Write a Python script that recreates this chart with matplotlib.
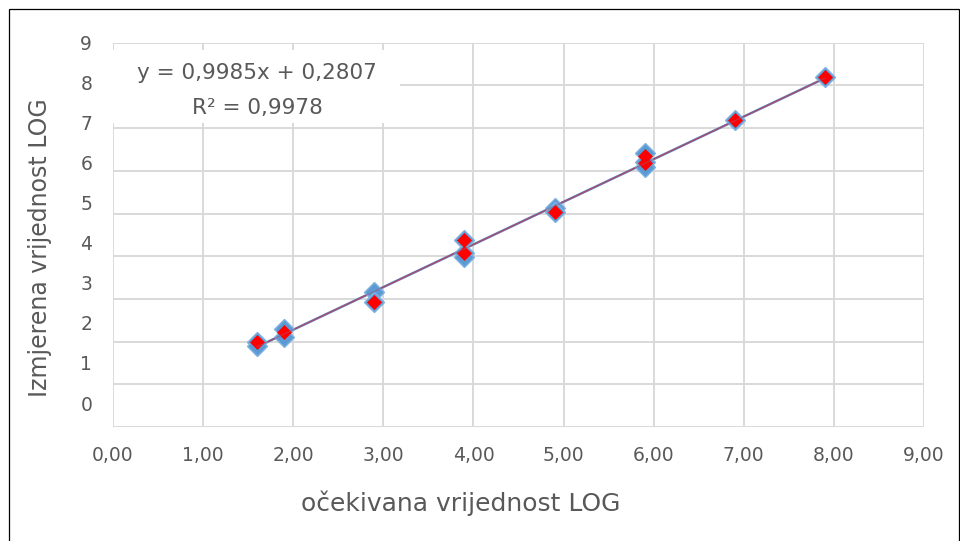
import matplotlib.pyplot as plt
from matplotlib.patches import Rectangle
import numpy as np

# measured replicates (blue) and mean-ish points (red)
x_blue = [1.6, 1.6, 1.9, 1.9, 2.9, 2.9, 3.9, 3.9, 3.9, 4.9, 4.9, 5.9, 5.9, 5.9, 6.9, 7.9]
y_blue = [1.99, 1.90, 2.30, 2.11, 3.16, 2.93, 4.38, 4.07, 3.98, 5.13, 5.04, 6.42, 6.21, 6.09, 7.19, 8.20]
x_red = [1.6, 1.9, 2.9, 3.9, 3.9, 4.9, 5.9, 5.9, 6.9, 7.9]
y_red = [1.99, 2.22, 2.93, 4.38, 4.07, 5.04, 6.35, 6.18, 7.19, 8.20]

slope = 0.9985
intercept = 0.2807
r2 = 0.9978

x_ticks = list(range(10))
x_labels = ["0,00", "1,00", "2,00", "3,00", "4,00", "5,00", "6,00", "7,00", "8,00", "9,00"]
# y labels in the picture sit a bit off the gridlines
y_label_pos = [0.562 + 0.937 * k for k in range(10)]
y_labels = [str(k) for k in range(10)]

txt = "#595959"
fig = plt.figure(figsize=(9.6, 5.41), dpi=100)
ax = fig.add_axes([113 / 960, 1 - 427 / 541, (924 - 113) / 960, (427 - 42.7) / 541])

ax.set_xlim(0, 9)
ax.set_ylim(0, 9)
ax.set_xticks(x_ticks)
ax.set_xticklabels(x_labels)
ax.set_yticks(y_label_pos)
ax.set_yticklabels(y_labels)
ax.set_yticks(range(10), minor=True)
ax.tick_params(which="both", length=0, labelsize=13.5, labelcolor=txt)
ax.tick_params(axis="x", pad=14)
ax.tick_params(axis="y", pad=15)
ax.xaxis.grid(True, which="major", color="#D9D9D9", lw=1.4)
ax.yaxis.grid(False, which="major")
ax.yaxis.grid(True, which="minor", color="#D9D9D9", lw=1.4)
ax.set_axisbelow(True)
for s in ax.spines.values():
    s.set_visible(False)

# trendline
xt = np.array([min(x_blue), max(x_blue)])
yt = slope * xt + intercept
ax.plot(xt, yt, color="#5B9BD5", lw=1.8, zorder=2)
ax.plot(xt, yt, color="#C0334D", lw=1.0, alpha=0.8, zorder=2)

ax.plot(x_blue, y_blue, linestyle="none", marker="D", ms=10, mfc="#5B9BD5",
        mec="#7FB2E0", mew=1, zorder=3)
ax.plot(x_red, y_red, linestyle="none", marker="D", ms=7, mfc="#FF0000",
        mec="#FF0000", mew=0.5, zorder=4)
# trendline drawn over the markers as in the original
ax.plot(xt, yt, color="#A0507A", lw=0.8, alpha=0.6, zorder=5)

# equation box
fig.patches.append(Rectangle((110 / 960, 1 - 123 / 541), (400 - 110) / 960, 73 / 541,
                             transform=fig.transFigure, facecolor="white",
                             edgecolor="none", zorder=5))
fig.text(257 / 960, 1 - 73 / 541, "y = 0,9985x + 0,2807",
         ha="center", va="center", fontsize=15.5, color=txt, zorder=6)
fig.text(257 / 960, 1 - 108 / 541, "R² = 0,9978", ha="center", va="center",
         fontsize=15.5, color=txt, zorder=6)

fig.text(461 / 960, 1 - 503 / 541, "očekivana vrijednost LOG", ha="center", va="center",
         fontsize=18, color=txt)
fig.text(40 / 960, 1 - 248 / 541, "Izmjerena vrijednost LOG", ha="center", va="center",
         rotation=90, fontsize=17, color=txt)

# chart border
fig.patches.append(Rectangle((8.5 / 960, -0.05), (959 - 8.5) / 960, 1.05 - 8.5 / 541,
                             transform=fig.transFigure, facecolor="none",
                             edgecolor="black", lw=0.9))

fig.savefig("out.png", dpi=100)
